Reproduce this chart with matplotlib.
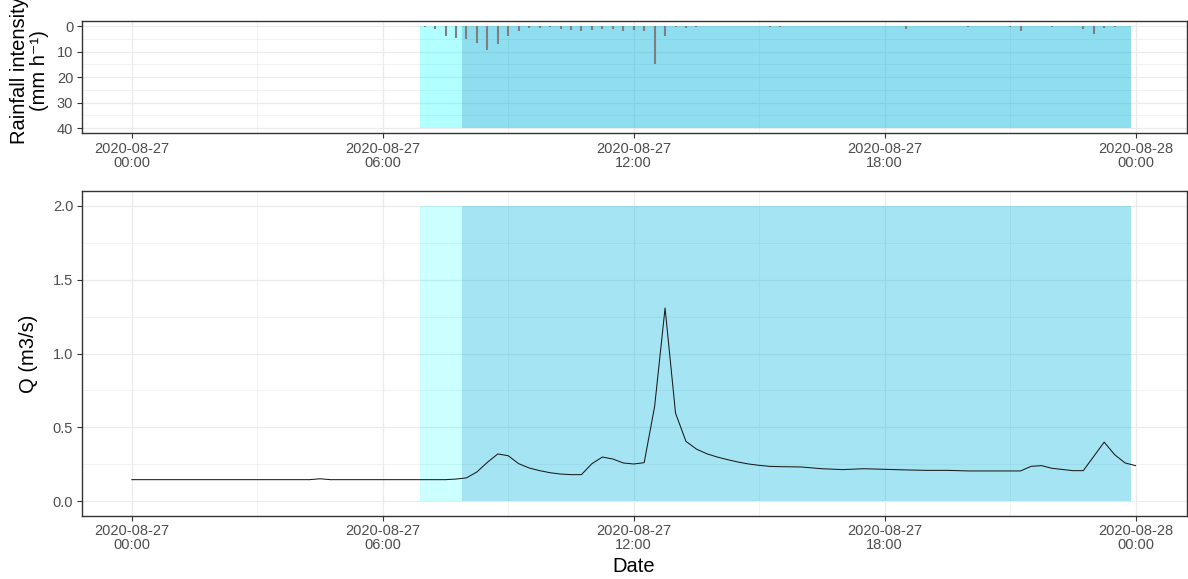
import matplotlib
matplotlib.use("Agg")
import matplotlib.pyplot as plt
import matplotlib.dates as mdates
from matplotlib.ticker import MultipleLocator, FormatStrFormatter
import pandas as pd

plt.rcParams['font.family'] = ['Liberation Sans', 'DejaVu Sans']

DAY = pd.Timestamp("2020-08-27 00:00")

def at(hhmm):
    h, m = hhmm.split(":")
    return DAY + pd.Timedelta(hours=int(h), minutes=int(m))

# 15-minute rainfall intensity (mm/h)
rain_times = ["07:00", "07:15", "07:30", "07:45", "08:00", "08:15", "08:30", "08:45",
              "09:00", "09:15", "09:30", "09:45", "10:00", "10:15", "10:30", "10:45",
              "11:00", "11:15", "11:30", "11:45", "12:00", "12:15", "12:30", "12:45",
              "13:00", "13:15", "13:30", "15:15", "15:30", "18:30", "20:00", "21:00",
              "21:15", "22:00", "22:45", "23:00", "23:15", "23:30"]
rain_values = [0.3, 1.0, 3.7, 4.5, 4.9, 6.5, 9.2, 7.2,
               4.0, 1.9, 0.9, 0.9, 0.5, 1.1, 1.4, 1.9,
               1.4, 1.1, 1.1, 1.9, 1.7, 1.9, 14.9, 3.9,
               0.5, 0.7, 0.5, 0.3, 0.3, 1.0, 0.4, 0.3,
               1.9, 0.4, 1.0, 3.2, 0.7, 0.4]

# Discharge (m3/s)
q_times = ["00:00", "01:00", "02:00", "03:00", "04:00", "04:15", "04:30", "04:45",
           "05:00", "06:00", "07:00", "07:30", "07:45", "08:00", "08:15", "08:30",
           "08:45", "09:00", "09:15", "09:30", "09:45", "10:00", "10:15", "10:30",
           "10:45", "11:00", "11:15", "11:30", "11:45", "12:00", "12:15", "12:30",
           "12:45", "13:00", "13:15", "13:30", "13:45", "14:00", "14:15", "14:30",
           "14:45", "15:00", "15:15", "15:30", "16:00", "16:30", "17:00", "17:30",
           "18:00", "18:30", "19:00", "19:30", "20:00", "21:00", "21:15", "21:30",
           "21:45", "22:00", "22:30", "22:45", "23:15", "23:30", "23:45", "24:00"]
q_values = [0.146, 0.146, 0.146, 0.146, 0.146, 0.146, 0.152, 0.146,
            0.146, 0.146, 0.146, 0.146, 0.150, 0.158, 0.198, 0.263,
            0.320, 0.308, 0.254, 0.225, 0.207, 0.193, 0.184, 0.180,
            0.180, 0.254, 0.299, 0.286, 0.259, 0.252, 0.261, 0.641,
            1.308, 0.596, 0.405, 0.353, 0.321, 0.299, 0.281, 0.265,
            0.252, 0.243, 0.236, 0.234, 0.232, 0.220, 0.214, 0.220,
            0.216, 0.212, 0.209, 0.209, 0.205, 0.205, 0.205, 0.236,
            0.241, 0.223, 0.207, 0.207, 0.400, 0.315, 0.259, 0.241]

# Event periods
pre_event = ("06:53", "07:53")
event = ("07:53", "23:54")

rt = [at(t) for t in rain_times]
qt = [at(t) for t in q_times]

fig = plt.figure(figsize=(11.88, 5.79), dpi=100)
W, H = 1188, 579
left_px, right_px = 81.5, 1187
ax_top = fig.add_axes([left_px / W, 1 - 133.3 / H, (right_px - left_px) / W, (133.3 - 21) / H])
ax_bot = fig.add_axes([left_px / W, 1 - 516 / H, (right_px - left_px) / W, (516 - 191) / H])

xlim = (DAY - pd.Timedelta(hours=1.204), DAY + pd.Timedelta(hours=25.23))
tick_col = '#4d4d4d'
edge_col = '#333333'

for ax in (ax_top, ax_bot):
    ax.set_facecolor('white')
    ax.set_axisbelow(True)
    ax.set_xlim(*xlim)
    ax.xaxis.set_major_locator(mdates.HourLocator(byhour=[0, 6, 12, 18]))
    ax.xaxis.set_minor_locator(mdates.HourLocator(byhour=[3, 9, 15, 21]))
    ax.xaxis.set_major_formatter(mdates.DateFormatter("%Y-%m-%d\n%H:%M"))
    ax.grid(which='major', color='#ebebeb', lw=0.9)
    ax.grid(which='minor', color='#ebebeb', lw=0.45)
    ax.tick_params(which='major', length=3.5, width=0.8, color=edge_col,
                   labelcolor=tick_col, labelsize=10.5, pad=2.5)
    ax.tick_params(which='minor', length=0)
    for s in ax.spines.values():
        s.set_color(edge_col)
        s.set_linewidth(1.0)

# Rainfall panel
ax_top.fill_between([at(pre_event[0]), at(pre_event[1])], 0, 40,
                    color=(0, 1, 1), alpha=0.3, lw=0)
ax_top.fill_between([at(event[0]), at(event[1])], 0, 40,
                    color=(6 / 255, 182 / 255, 222 / 255), alpha=0.45, lw=0)
ax_top.vlines(rt, 0, rain_values, color='#7f7f7f', lw=1.5)
ax_top.set_ylim(42, -2)
ax_top.yaxis.set_major_locator(MultipleLocator(10))
ax_top.yaxis.set_minor_locator(MultipleLocator(5))

# Discharge panel
ax_bot.fill_between([at(pre_event[0]), at(pre_event[1])], 0, 2,
                    color=(0, 1, 1), alpha=0.2, lw=0)
ax_bot.fill_between([at(event[0]), at(event[1])], 0, 2,
                    color=(6 / 255, 182 / 255, 222 / 255), alpha=0.36, lw=0)
ax_bot.plot(qt, q_values, color='#1a1a1a', lw=0.75)
ax_bot.set_ylim(-0.1, 2.1)
ax_bot.yaxis.set_major_locator(MultipleLocator(0.5))
ax_bot.yaxis.set_minor_locator(MultipleLocator(0.25))
ax_bot.yaxis.set_major_formatter(FormatStrFormatter('%.1f'))

for ax in (ax_top, ax_bot):
    for lbl in ax.get_xticklabels():
        lbl.set_linespacing(1.0)

fig.text(29.5 / W, 1 - 71 / H, "Rainfall intensity\n(mm h\u207b\u00b9)", rotation=90,
         ha='center', va='center', multialignment='center', fontsize=14.5,
         linespacing=1.05, color='black')
fig.text(28 / W, 1 - 353.5 / H, "Q (m3/s)", rotation=90, ha='center', va='center',
         fontsize=14.5, color='black')
fig.text(634 / W, 1 - 566 / H, "Date", ha='center', va='center', fontsize=14.5,
         color='black')

fig.savefig("out.png", dpi=100)
